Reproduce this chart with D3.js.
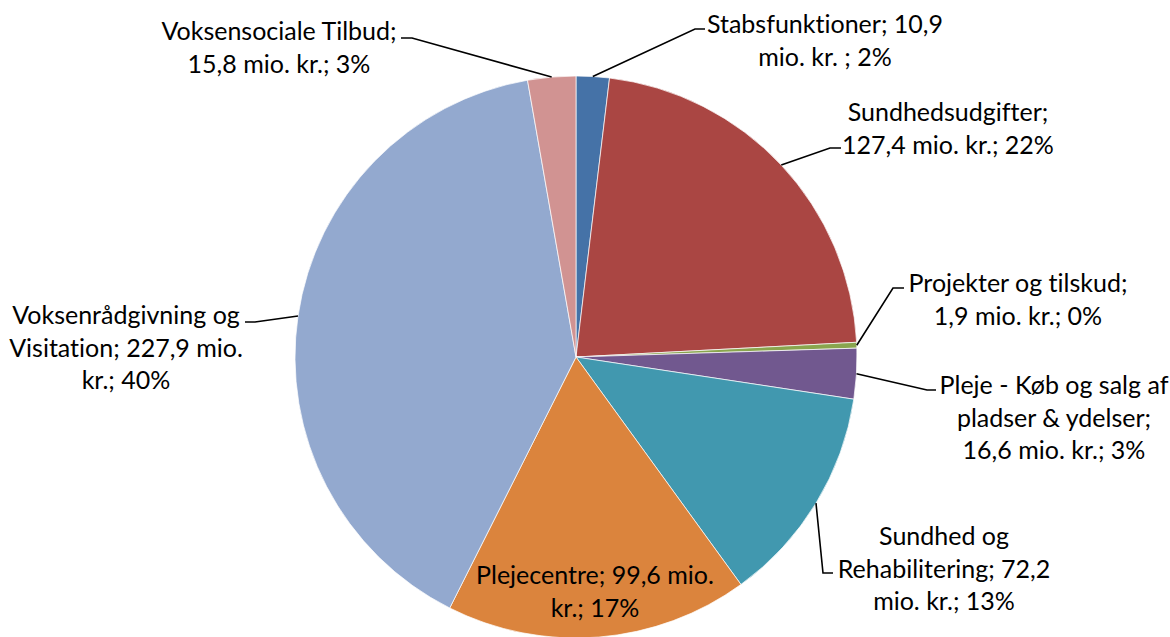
<!DOCTYPE html>
<html><head><meta charset="utf-8">
<script src="https://cdn.jsdelivr.net/npm/d3@7"></script>
<style>body{margin:0;background:#fff}svg{display:block}text{font-family:Lato,"Open Sans",sans-serif;font-size:25px;fill:#000;font-variant-ligatures:none;font-feature-settings:"liga" 0,"clig" 0}</style>
</head><body><svg id="c" width="1170" height="637"></svg>
<script>
const categories = ["Stabsfunktioner","Sundhedsudgifter","Projekter og tilskud","Pleje - Køb og salg af pladser & ydelser","Sundhed og Rehabilitering","Plejecentre","Voksenrådgivning og Visitation","Voksensociale Tilbud"];
const values = [10.9,127.4,1.9,16.6,72.2,99.6,227.9,15.8];
const labelLines = [
  ["Stabsfunktioner; 10,9","mio. kr. ; 2%"],
  ["Sundhedsudgifter;","127,4 mio. kr.; 22%"],
  ["Projekter og tilskud;","1,9 mio. kr.; 0%"],
  ["Pleje - Køb og salg af","pladser & ydelser;","16,6 mio. kr.; 3%"],
  ["Sundhed og","Rehabilitering; 72,2","mio. kr.; 13%"],
  ["Plejecentre; 99,6 mio.","kr.; 17%"],
  ["Voksenrådgivning og","Visitation; 227,9 mio.","kr.; 40%"],
  ["Voksensociale Tilbud;","15,8 mio. kr.; 3%"]
];
const colors = ["#4572A7","#AA4643","#89A54E","#71588F","#4198AF","#DB843D","#93A9CF","#D19392"];
// layout: label center x, first-line center y, elbow points (null = label inside slice)
const layout = [
  {x:825,y:23,elbow:[[695,29],[705,29]]},
  {x:948,y:111,elbow:[[830,148],[841,148]]},
  {x:1018,y:282,elbow:[[893,288],[904,288]]},
  {x:1054,y:384,elbow:[[927,390],[936,390]]},
  {x:944,y:535,elbow:[[823,573],[833,573]]},
  {x:595,y:574,elbow:null},
  {x:126,y:314,elbow:[[255,322],[245,322]]},
  {x:279,y:30,elbow:[[412,38],[401,38]]}
];
const lineH = 32.5;
const cx = 576, cy = 357, R = 281;
const svg = d3.select("#c");
const g = svg.append("g").attr("transform",`translate(${cx},${cy})`);
const pie = d3.pie().sort(null).value(d=>d).startAngle(0).endAngle(2*Math.PI);
const arcs = pie(values);
const arc = d3.arc().innerRadius(0).outerRadius(R);
const color = d3.scaleOrdinal().domain(categories).range(colors);
g.selectAll("path.slice").data(arcs).join("path").attr("class","slice")
  .attr("d",arc).attr("fill",(d,i)=>color(categories[i])).attr("stroke","#fff").attr("stroke-width",0.7);
arcs.forEach((d,i)=>{
  const L = layout[i];
  if(!L.elbow) return;
  const a = (d.startAngle+d.endAngle)/2;
  const p0 = [cx+R*Math.sin(a), cy-R*Math.cos(a)];
  svg.append("path").attr("d",d3.line()([p0, ...L.elbow])).attr("fill","none").attr("stroke","#000").attr("stroke-width",1.6);
});
labelLines.forEach((lines,i)=>{
  const L = layout[i];
  const t = svg.append("text").attr("text-anchor","middle");
  lines.forEach((s,j)=>{
    t.append("tspan").attr("x",L.x).attr("y",L.y+j*lineH).attr("dominant-baseline","central").text(s);
  });
});
</script></body></html>
